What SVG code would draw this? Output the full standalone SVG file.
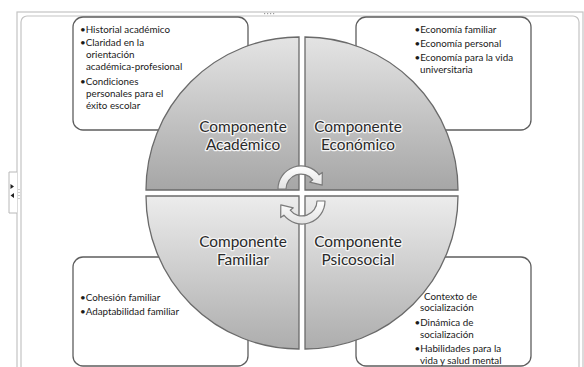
<svg xmlns="http://www.w3.org/2000/svg" width="584" height="367" viewBox="0 0 584 367">
<defs>
<linearGradient id="gTop" x1="0" y1="0" x2="0" y2="1">
<stop offset="0" stop-color="#e4e4e4"/>
<stop offset="1" stop-color="#a6a6a6"/>
</linearGradient>
<linearGradient id="gBot" x1="0" y1="0" x2="0" y2="1">
<stop offset="0" stop-color="#ececec"/>
<stop offset="1" stop-color="#adadad"/>
</linearGradient>
<linearGradient id="gArr" x1="0" y1="0" x2="0" y2="1">
<stop offset="0" stop-color="#ffffff"/>
<stop offset="1" stop-color="#e2e2e2"/>
</linearGradient>
</defs>
<style>
.frame{fill:none;stroke:#c4c4c4;stroke-width:1.2}
.box{fill:#ffffff;stroke:#5e5e5e;stroke-width:1.3}
.bt{font-family:Lato,"Liberation Sans",sans-serif;font-size:9.8px;fill:#1a1a1a}
.q{stroke:#6a6a6a;stroke-width:1.3}
.ql{font-family:Lato,"Liberation Sans",sans-serif;font-size:15.4px;fill:#2a2a2a;text-anchor:middle;stroke:#f4f4f4;stroke-width:2.6px;paint-order:stroke;stroke-linejoin:round}
.arr{fill:url(#gArr);stroke:#7a7a7a;stroke-width:1.2;stroke-linejoin:round}
</style>
<rect width="584" height="367" fill="#ffffff"/>
<g id="frame">
<rect class="frame" x="17" y="12" width="566" height="380"/>
<rect class="frame" x="21" y="16" width="558" height="380" rx="6" stroke="#b0b0b0"/>
<g fill="#9a9a9a"><rect x="264" y="13" width="1.2" height="1.2"/><rect x="267" y="13" width="1.2" height="1.2"/><rect x="270" y="13" width="1.2" height="1.2"/><rect x="273" y="13" width="1.2" height="1.2"/></g>
<path d="M17 172 H9 V213 H17" fill="#ffffff" stroke="#b8b8b8" stroke-width="1"/>
<path d="M10.5 184 L14 186.5 L10.5 189 Z M14 193 L10.5 195.5 L14 198 Z" fill="#222222"/>
<g fill="#a0a0a0"><rect x="18.5" y="189" width="1" height="1"/><rect x="18.5" y="192" width="1" height="1"/><rect x="18.5" y="195" width="1" height="1"/><rect x="18.5" y="198" width="1" height="1"/></g>
</g>
<g id="box-academico">
<rect class="box" x="73" y="17" width="175" height="113" rx="10"/>
<text class="bt"><tspan x="80" y="33">•Historial académico</tspan><tspan x="80" y="46">•Claridad en la</tspan><tspan x="86" y="58">orientación</tspan><tspan x="86" y="70">académica-profesional</tspan><tspan x="80" y="84.5">•Condiciones</tspan><tspan x="86" y="97">personales para el</tspan><tspan x="86" y="109">éxito escolar</tspan></text>
</g>
<g id="box-economico">
<rect class="box" x="356" y="17" width="175" height="113" rx="10"/>
<text class="bt"><tspan x="414.5" y="32.5">•Economía familiar</tspan><tspan x="414.5" y="46.5">•Economía personal</tspan><tspan x="414.5" y="60.5">•Economía para la vida</tspan><tspan x="420" y="72.5">universitaria</tspan></text>
</g>
<g id="box-familiar">
<rect class="box" x="73" y="257" width="175" height="109" rx="10"/>
<text class="bt"><tspan x="80" y="300.5">•Cohesión familiar</tspan><tspan x="80" y="314.5">•Adaptabilidad familiar</tspan></text>
</g>
<g id="box-psicosocial">
<rect class="box" x="356" y="257" width="175" height="109" rx="10"/>
<text class="bt"><tspan x="424" y="299.5">Contexto de</tspan><tspan x="420" y="311">socialización</tspan><tspan x="414.5" y="325.5">•Dinámica de</tspan><tspan x="420" y="337.5">socialización</tspan><tspan x="414.5" y="351.5">•Habilidades para la</tspan><tspan x="420" y="363.5">vida y salud mental</tspan></text>
</g>
<g id="q-academico">
<path class="q" fill="url(#gTop)" d="M299 190 L146 190 A153 153 0 0 1 299 37 Z"/>
<text class="ql" x="243" y="132">Componente</text>
<text class="ql" x="243" y="150">Académico</text>
</g>
<g id="q-economico">
<path class="q" fill="url(#gTop)" d="M305 190 L305 37 A153 153 0 0 1 458 190 Z"/>
<text class="ql" x="358" y="132">Componente</text>
<text class="ql" x="358" y="150">Económico</text>
</g>
<g id="q-familiar">
<path class="q" fill="url(#gBot)" d="M299 196 L299 349 A153 153 0 0 1 146 196 Z"/>
<text class="ql" x="243" y="247">Componente</text>
<text class="ql" x="243" y="265">Familiar</text>
</g>
<g id="q-psicosocial">
<path class="q" fill="url(#gBot)" d="M305 196 L458 196 A153 153 0 0 1 305 349 Z"/>
<text class="ql" x="358" y="247">Componente</text>
<text class="ql" x="358" y="265">Psicosocial</text>
</g>
<g id="connectors">
<path class="arr" d="M278 189 A23 23 0 0 1 319.1 174.8 L322.3 172.4 L322.2 185.2 L309.7 182.2 L312.8 179.8 A15 15 0 0 0 286 189 Z"/>
<path class="arr" d="M325 201 A23 23 0 0 1 283.9 215.2 L280.7 217.6 L280.8 204.8 L293.3 207.8 L290.2 210.2 A15 15 0 0 0 317 201 Z"/>
</g>
</svg>
